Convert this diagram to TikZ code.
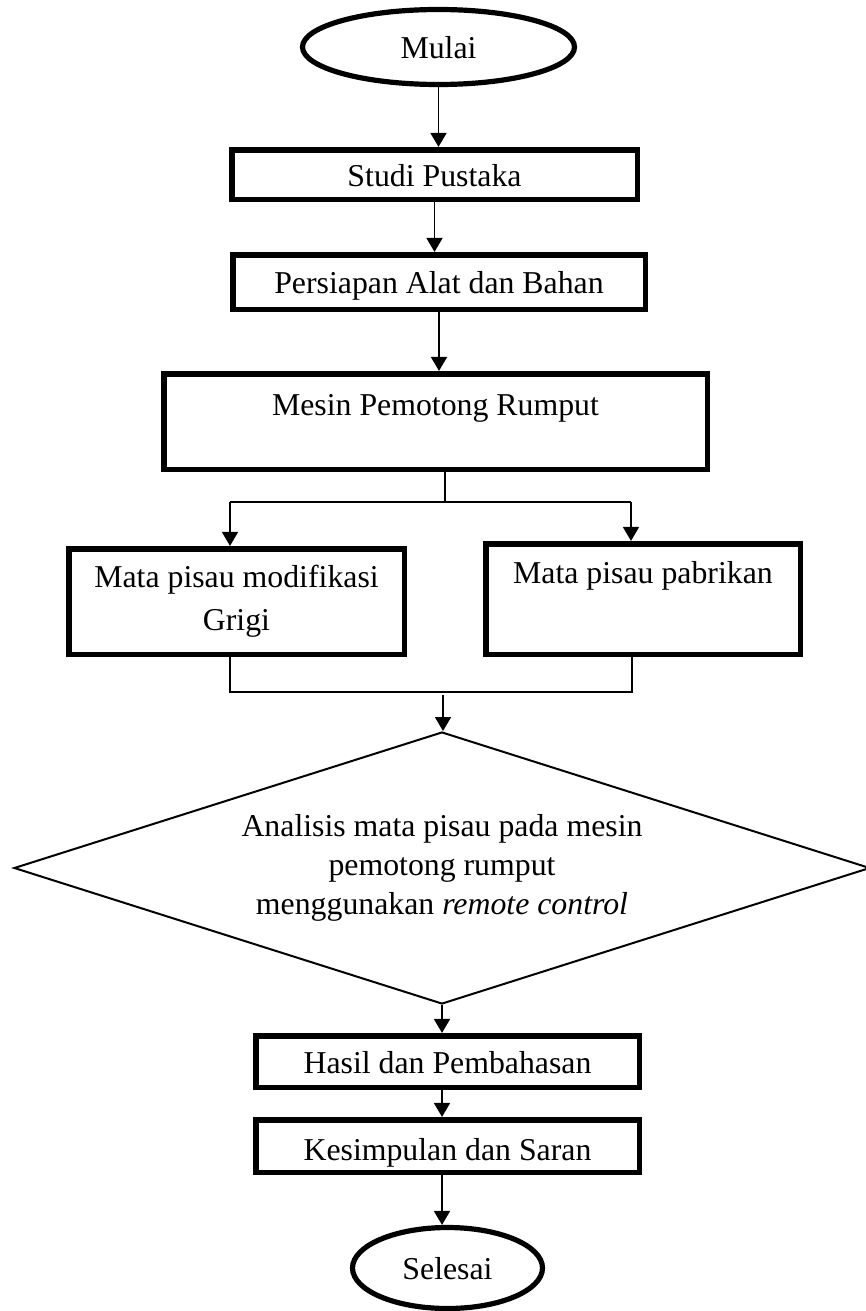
\documentclass[tikz,border=0pt]{standalone}
\usepackage{fontspec}
\setmainfont{Liberation Serif}
\usetikzlibrary{shapes.geometric,arrows.meta}

\begin{document}
\begin{tikzpicture}[x=0.5pt,y=-0.5pt,
font=\fontsize{15.9pt}{19.5pt}\selectfont,
flow/.style={-{Triangle[length=7pt,width=8pt]},line width=0.9pt},
link/.style={line width=0.9pt},
box/.style={rectangle,draw,line width=2.8pt,inner sep=0pt},
single/.style={text height=12pt,text depth=0.5pt},
terminal/.style={ellipse,draw,line width=2.6pt,inner sep=0pt,
text height=12pt,text depth=0.5pt},
decision/.style={diamond,draw,line width=1pt,inner sep=0pt,
aspect=3.15,align=center}
]
\useasboundingbox (0,0) rectangle (866,1311);
\node[terminal] (Mulai) at (438.5,47) [minimum width=136pt,minimum height=37.5pt] {Mulai};
\node[box,single] (Studi) at (434.5,174.5) [minimum width=202.8pt,minimum height=24.8pt] {Studi Pustaka};
\node[box,single] (Persiapan) at (439,282) [minimum width=206.3pt,minimum height=27.3pt] {Persiapan Alat dan Bahan};
\node[box,text height=11pt,text depth=17.5pt] (Mesin) at (435.5,421.5) [minimum width=271.8pt,minimum height=47.8pt] {Mesin Pemotong Rumput};
\node[box,align=center,font=\fontsize{15.9pt}{21.5pt}\selectfont] (Grigi) at (236.5,601.5) [minimum width=167.8pt,minimum height=52.8pt] {Mata pisau modifikasi\\ Grigi};
\node[box,text height=11pt,text depth=27pt] (Pabrikan) at (643,599) [minimum width=157.3pt,minimum height=55.3pt] {Mata pisau pabrikan};
\node[decision] (Analisis) at (442,868) [minimum width=428pt,minimum height=136pt] {Analisis mata pisau pada mesin\\ pemotong rumput\\ menggunakan \textit{remote control}};
\node[box,single] (Hasil) at (447.5,1061.5) [minimum width=191.8pt,minimum height=25.8pt] {Hasil dan Pembahasan};
\node[box,text height=17pt,text depth=3pt] (Kesimpulan) at (447.5,1146) [minimum width=191.8pt,minimum height=26.3pt] {Kesimpulan dan Saran};
\node[terminal] (Selesai) at (447.5,1268) [minimum width=95pt,minimum height=40.5pt] {Selesai};

\coordinate (split) at (445,502);
\coordinate (splitL) at (230,502);
\coordinate (splitR) at (631,502);
\coordinate (mergeL) at (230,692);
\coordinate (mergeR) at (632,692);
\coordinate (merge) at (443,695);

\draw[flow] (Mulai.south) -- (Mulai.south |- Studi.north);
\draw[flow] (Studi.south) -- (Studi.south |- Persiapan.north);
\draw[flow] (Persiapan.south) -- (Persiapan.south |- Mesin.north);
\draw[link] (Mesin.south -| split) -- (split);
\draw[link] (splitL) -- (splitR);
\draw[flow] (splitL) -- (splitL |- Grigi.north);
\draw[flow] (splitR) -- (splitR |- Pabrikan.north);
\draw[link] (Grigi.south -| mergeL) -- (mergeL) -- (mergeR) -- (Pabrikan.south -| mergeR);
\draw[flow] (merge) -- (merge |- Analisis.north);
\draw[flow] (Analisis.south) -- (Analisis.south |- Hasil.north);
\draw[flow] (Analisis.south |- Hasil.south) -- (Analisis.south |- Kesimpulan.north);
\draw[flow] (Analisis.south |- Kesimpulan.south) -- (Analisis.south |- Selesai.north);
\end{tikzpicture}
\end{document}
